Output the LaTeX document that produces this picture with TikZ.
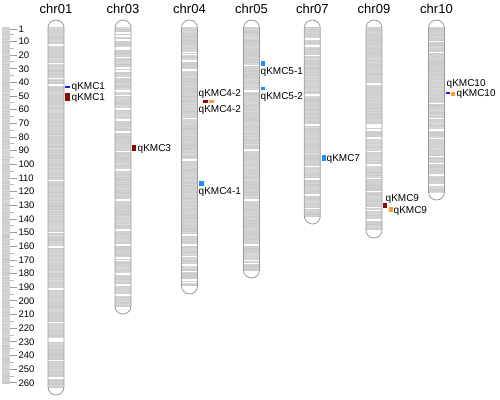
\documentclass[tikz,border=0pt]{standalone}
\usepackage{fontspec}
\setmainfont{Liberation Sans}
\definecolor{chrline}{HTML}{9A9A9A}
\definecolor{mkred}{HTML}{8B0A0A}
\definecolor{mkorange}{HTML}{FF9A2E}
\definecolor{mkblue}{HTML}{1A1AFF}
\definecolor{mksky}{HTML}{1E8CFF}
\tikzset{
 chrlabel/.style={font=\fontsize{13}{15}\selectfont, anchor=base, inner sep=0pt},
 qlabel/.style={font=\fontsize{10}{12}\selectfont, anchor=base west, inner sep=0pt},
 rlabel/.style={font=\fontsize{9.5}{11}\selectfont, anchor=base west, inner sep=0pt},
 band/.style={white, line width=1.4pt},
 outline/.style={draw=chrline, line width=0.8pt},
}
\newcommand\stripes[4]{%
 \begin{scope}
 \clip (#1,#3) rectangle (#2,#4);
 \fill[gray!38] (#1,#3) rectangle (#2,#4);
 \foreach \yy in {0,1.3,...,370}{%
   \pgfmathrandominteger{\rr}{30}{42}%
   \draw[gray!\rr, line width=0.65pt] (#1,#3+\yy) -- (#2,#3+\yy);
 }
 \end{scope}}
\newcommand\chrom[4]{%
  \stripes{#2-8}{#2+8}{27}{#3-8}
  \foreach \w in {#4} \draw[band] (#2-8,\w) -- (#2+8,\w);
  \draw[outline] (#2-8,28) -- (#2-8,#3-8) arc[start angle=180, end angle=0, radius=8] -- (#2+8,28) arc[start angle=0, end angle=-180, radius=8] -- cycle;
  \node[chrlabel] (#1) at (#2,13.5) {#1};
}
\begin{document}
\begin{tikzpicture}[x=1pt,y=-1pt]
\pgfmathsetseed{7}
\useasboundingbox (0,0) rectangle (500,399);
% ruler
\stripes{2}{10}{27}{383}
\foreach \u in {5,15,...,255}{%
  \pgfmathsetmacro\yy{29+(\u-1)*1.366}
  \draw[chrline!70, line width=0.6pt] (10,\yy) -- (13.5,\yy);
}
\foreach \u in {1,10,20,...,260}{%
  \pgfmathsetmacro\yy{29+(\u-1)*1.366}
  \draw[chrline, line width=0.7pt] (10,\yy) -- (17,\yy);
  \node[rlabel] (r\u) at (18.3,\yy+3.4) {\u};
}
% chromosomes
\chrom{chr01}{56}{395}{45,63.3,78.3,85,180.7,232.7,247,289,322.3,339,341,360.7,378}
\chrom{chr03}{123}{314}{33,36,40,47.7,49,57.7,68,71,77.7,91,95.7,109,120,132,151.7,170,200,230,245,258,260.7,274,285,295}
\chrom{chr04}{189.5}{294}{52.7,54.3,61,70,118.3,160,235,245,256.7,265,271.7,280,282.7}
\chrom{chr05}{251.5}{278}{65.7,91,150,200,245,260.7,263.3}
\chrom{chr07}{312.3}{224}{39,46,55.7,95,125,166.7,178.3,179.5,195,208.3}
\chrom{chr09}{374}{238}{84,124.5,126,127.5,130,138,151.7,165,178.3,191.7,207.3,210.7,220}
\chrom{chr10}{436.5}{200}{41.7,52.3,103.3,118.3,130,138.3,156.7,163.3,175,185}
% markers
\fill[mkblue] (65,86.4) rectangle (69.5,88.2);
\node[qlabel] (q1a) at (71.5,89.3) {qKMC1};
\fill[mkred] (65,92.7) rectangle (69.5,100.7);
\node[qlabel] (q1b) at (71.5,100.6) {qKMC1};
\fill[mkred] (131.5,145) rectangle (136,151);
\node[qlabel] (q3) at (137.5,151.5) {qKMC3};
\node[qlabel] (q42a) at (198.5,96.9) {qKMC4-2};
\fill[mkred] (203.3,100) rectangle (207.7,102.6);
\fill[mkorange] (209,100) rectangle (213.5,102.6);
\node[qlabel] (q42b) at (198.5,112.6) {qKMC4-2};
\fill[mksky] (199.3,180.7) rectangle (203.5,186);
\node[qlabel] (q41) at (198.5,194.6) {qKMC4-1};
\fill[mksky] (261,61) rectangle (265,65.7);
\node[qlabel] (q51) at (260.5,74.3) {qKMC5-1};
\fill[mksky] (261,87.3) rectangle (265,90);
\node[qlabel] (q52) at (260.5,99.3) {qKMC5-2};
\fill[mksky] (321.7,155) rectangle (326,161);
\node[qlabel] (q7) at (326.5,161.9) {qKMC7};
\fill[mkred] (383.3,202.7) rectangle (387.2,208.3);
\node[qlabel] (q9a) at (385.5,201.9) {qKMC9};
\fill[mkorange] (388.7,206.7) rectangle (392.7,212.3);
\node[qlabel] (q9b) at (393.5,213.6) {qKMC9};
\node[qlabel] (q10a) at (446.5,86.3) {qKMC10};
\fill[mkblue] (446,92) rectangle (450.3,93.6);
\fill[mkorange] (451.3,92) rectangle (455.2,95.7);
\node[qlabel] (q10b) at (456.5,96.6) {qKMC10};
\end{tikzpicture}
\end{document}
